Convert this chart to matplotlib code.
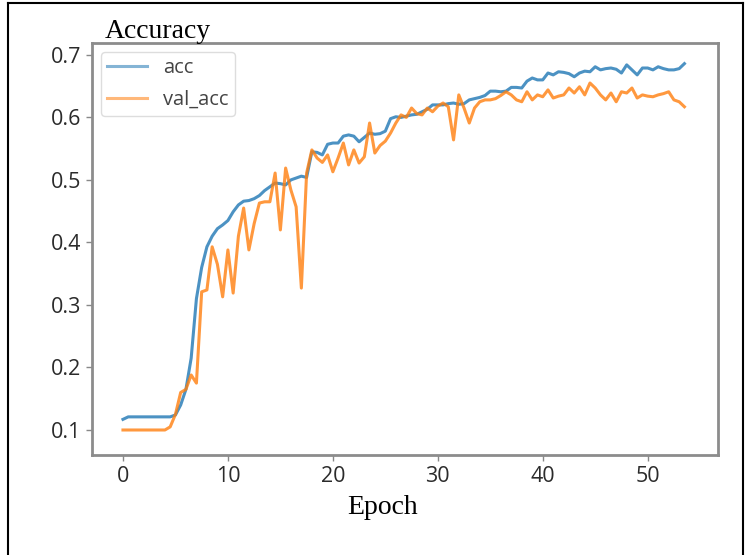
import numpy as np
import matplotlib
matplotlib.use('Agg')
import matplotlib.pyplot as plt
from matplotlib.lines import Line2D

# data (half epoch steps)
epochs = np.arange(0, 54, 0.5)

acc = [0.117, 0.121, 0.121, 0.121, 0.121, 0.121, 0.121, 0.121, 0.121, 0.121,
       0.124, 0.140, 0.165, 0.215, 0.310, 0.360, 0.393, 0.410, 0.422, 0.428,
       0.435, 0.449, 0.460, 0.466, 0.467, 0.470, 0.475, 0.483, 0.489, 0.495,
       0.494, 0.492, 0.500, 0.503, 0.506, 0.504, 0.545, 0.544, 0.540, 0.557,
       0.559, 0.559, 0.570, 0.572, 0.570, 0.561, 0.568, 0.575, 0.573, 0.574,
       0.578, 0.598, 0.601, 0.600, 0.602, 0.604, 0.605, 0.609, 0.613, 0.620,
       0.620, 0.620, 0.622, 0.623, 0.621, 0.622, 0.628, 0.630, 0.632, 0.635,
       0.642, 0.642, 0.641, 0.642, 0.648, 0.648, 0.647, 0.658, 0.663, 0.660,
       0.660, 0.671, 0.668, 0.673, 0.672, 0.670, 0.665, 0.671, 0.674, 0.673,
       0.681, 0.676, 0.678, 0.679, 0.677, 0.671, 0.684, 0.676, 0.668, 0.679,
       0.679, 0.676, 0.681, 0.678, 0.676, 0.676, 0.678, 0.686]

val_acc = [0.100, 0.100, 0.100, 0.100, 0.100, 0.100, 0.100, 0.100, 0.100, 0.105,
           0.125, 0.160, 0.165, 0.188, 0.175, 0.321, 0.324, 0.393, 0.365, 0.313,
           0.388, 0.319, 0.410, 0.455, 0.388, 0.430, 0.463, 0.465, 0.465, 0.511,
           0.420, 0.519, 0.484, 0.457, 0.327, 0.511, 0.548, 0.535, 0.528, 0.540,
           0.513, 0.535, 0.559, 0.524, 0.548, 0.527, 0.537, 0.591, 0.543, 0.555,
           0.562, 0.575, 0.591, 0.604, 0.600, 0.615, 0.606, 0.604, 0.615, 0.609,
           0.618, 0.623, 0.617, 0.564, 0.636, 0.615, 0.591, 0.615, 0.625, 0.628,
           0.628, 0.630, 0.635, 0.641, 0.636, 0.628, 0.625, 0.641, 0.628, 0.636,
           0.633, 0.644, 0.631, 0.634, 0.636, 0.647, 0.639, 0.649, 0.636, 0.655,
           0.647, 0.636, 0.628, 0.639, 0.625, 0.641, 0.639, 0.647, 0.631, 0.636,
           0.634, 0.633, 0.636, 0.638, 0.641, 0.628, 0.625, 0.617]

yticks = [0.1, 0.2, 0.3, 0.4, 0.5, 0.6, 0.7]
xticks = [0, 10, 20, 30, 40, 50]

#SETTINGS
W, H = 745, 555
fig = plt.figure(figsize=(W / 100, H / 100), dpi=100)
ax = fig.add_axes([92 / W, 1 - 455 / H, (718 - 92) / W, (455 - 43) / H])

#PLOT
ax.plot(epochs, acc, color='#1f77b4', linewidth=2.2, alpha=0.8, label='acc')
ax.plot(epochs, val_acc, color='#ff7f0e', linewidth=2.2, alpha=0.8, label='val_acc')

#CUSTOMIZE
ax.set_xlim(-2.95, 56.7)
ax.set_ylim(0.06, 0.719)
ax.set_xticks(xticks)
ax.set_yticks(yticks)
ax.set_yticklabels([f'{t:.1f}' for t in yticks])
ax.tick_params(colors='#888888', labelcolor='#2b2b2b', labelsize=15.5, length=4, width=1,
               pad=4)
for lab in ax.get_xticklabels() + ax.get_yticklabels():
    lab.set_fontfamily('Open Sans')
for sp in ax.spines.values():
    sp.set_color('#8c8c8c')
    sp.set_linewidth(2)

leg = ax.legend(loc='upper left', prop={'family': 'Open Sans', 'size': 14.5},
                framealpha=1, edgecolor='#dddddd', handlelength=2.0,
                borderaxespad=0.45, labelspacing=0.6, borderpad=0.3)
for t in leg.get_texts():
    t.set_color('#444444')
for h in leg.get_lines():
    h.set_alpha(0.55)

fig.text(105 / W, 1 - 31 / H, 'Accuracy', family='Liberation Serif', fontsize=20,
         va='center', ha='left', color='black')
fig.text(383 / W, 1 - 508 / H, 'Epoch', family='Liberation Serif', fontsize=20,
         va='center', ha='center', color='black')

# outer frame
for xs, ys in [([8 / W, 8 / W], [0, 1 - 3 / H]),
               ([8 / W, 1 - 2 / W], [1 - 3 / H, 1 - 3 / H]),
               ([1 - 2 / W, 1 - 2 / W], [0, 1 - 3 / H])]:
    fig.add_artist(Line2D(xs, ys, color='black', linewidth=1.5, transform=fig.transFigure))

#SAVING
fig.savefig('out.png', dpi=100)
